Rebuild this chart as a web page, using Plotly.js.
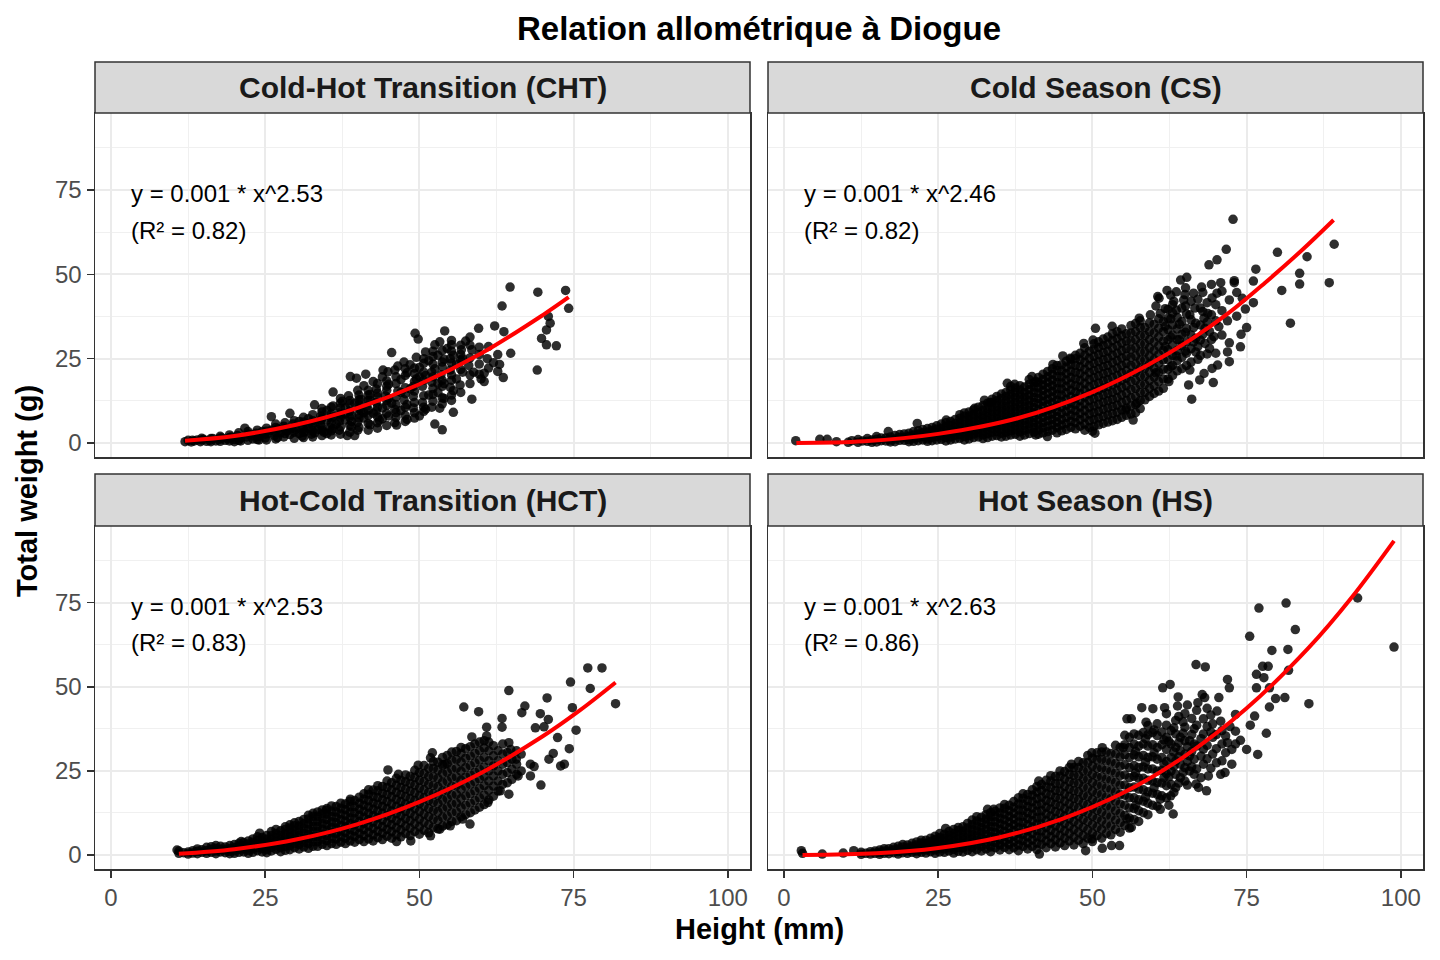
<!DOCTYPE html>
<html><head><meta charset="utf-8">
<script src="https://cdn.plot.ly/plotly-3.0.1.min.js"></script>
<style>html,body{margin:0;padding:0;background:#fff}#chart{width:1440px;height:960px}</style>
</head><body><div id="chart"></div>
<script>
const chartTitle = "Relation allométrique à Diogue";
const xTitle = "Height (mm)";
const yTitle = "Total weight (g)";
const panelTitles = ["Cold-Hot Transition (CHT)", "Cold Season (CS)", "Hot-Cold Transition (HCT)", "Hot Season (HS)"];
const equations = ["y = 0.001 * x^2.53", "y = 0.001 * x^2.46", "y = 0.001 * x^2.53", "y = 0.001 * x^2.63"];
const rSquared = ["(R² = 0.82)", "(R² = 0.82)", "(R² = 0.83)", "(R² = 0.86)"];
const xTicks = [0, 25, 50, 75, 100];
const yTicks = [0, 25, 50, 75];

// Points: [height, [weights...]]
const chtPoints = [
[12,[0.4]],[12.5,[0.8]],[13,[0.3]],[13.5,[0.6]],[14,[0.9]],[14.5,[0.4]],[15,[1.1]],[15.5,[0.5]],[16,[0.8]],[16.5,[1.3]],[17,[0.6]],[17.5,[1.0]],[18,[1.5]],[18.5,[0.8]],[19,[1.2]],[19.5,[1.8]],[20,[1.0,0.4]],[20.5,[2.2]],[21,[1.4,0.6]],[21.7,[4.4]],[22,[1.8]],[22.5,[2.6]],[23,[1.2,2.2]],[23.5,[2.9]],[24,[2.0,0.9]],[24.5,[3.4]],[25,[1.5,2.6]],[25.5,[2.8]],[26,[3.8,7.8]],[26.5,[2.2]],[27,[4.2,1.6]],[27.5,[3.0]],[28,[1.8,5.0]],[28.5,[3.6]],[29,[8.8,2.5,4.2]],[29.5,[5.6]],[30,[4.0]],[30.5,[2.8,6.4]],[31,[5.0,2.0]],[31.5,[3.4]],[32,[7.2,4.4,5.8]],[32.5,[2.6]],[33,[6.0,11.3,3.0]],[33.5,[4.0]],[34,[8.0,5.4,6.8]],[34.5,[3.2]],[35,[6.8,9.6,2.8]],[35.5,[4.6]],[36,[15.1,7.8,11.0,4.2]],[36.5,[5.6]],[37,[9.0,3.8,6.4]],[37.5,[12.4]],[38,[6.8,10.4,8.6]],[38.3,[2.2]],[38.5,[14.0]],[38.8,[19.7]],[39,[8.2,4.8,6.4]],[39.5,[11.8,2.2]],[39.8,[19.2]],[40,[6.2,15.6,3.8]],[40.5,[9.6,13.0]],[41,[17.0,7.4,9.0]],[41.3,[20.4]],[41.5,[11.0]],[42,[5.4,14.4,12.6]],[42.5,[8.8,18.2]],[43,[12.0,16.0,9.4]],[43.5,[6.8]],[44,[10.4,19.6,7.2]],[44.1,[21.6]],[44.5,[14.0]],[44.9,[21.1]],[45,[8.0,17.4,13.2]],[45.5,[26.8,11.8]],[46,[21.6,6.0,10.0]],[46.3,[5.3]],[46.5,[15.4,22.8]],[47,[9.6,18.8,15.0]],[47.5,[12.8,24.0]],[48,[20.8,7.0,11.4]],[48.5,[16.0,23.2]],[49,[10.4,13.8,16.8]],[49.3,[32.5]],[49.5,[19.0,25.4]],[49.8,[30.8]],[50,[8.0,22.4,19.6]],[50.5,[16.8,12.0]],[51,[27.0,20.0,10.0]],[51.5,[14.2,24.4]],[52,[18.0,10.6,21.0]],[52.5,[29.1,5.6,22.0]],[53,[26.0,15.0,17.6]],[53.3,[30.0,10.3]],[53.5,[20.2]],[53.7,[3.9]],[54,[24.8,17.6,13.2]],[54.1,[33.2]],[54.5,[28.0]],[55,[21.6,16.5,25.0]],[55.2,[29.1]],[55.5,[9.1,26.0,15.5]],[56,[23.4,19.0]],[56.6,[17.2]],[56.8,[27.6]],[57,[25.0,21.0]],[57.5,[30.2]],[58,[23.0]],[58.5,[27.6,13.0]],[58.8,[21.0]],[59.6,[34.0]],[60,[19.0]],[60.5,[18.2,20.7]],[61,[25.0]],[62,[23.8]],[62.2,[34.7]],[63,[23.3]],[63.4,[40.6]],[63.6,[19.4]],[63.7,[33.0]],[64.7,[46.2]],[64.8,[26.6]],[69.1,[21.6]],[69.2,[44.7]],[69.8,[31.0]],[70.6,[33.5,29.1]],[70.9,[37.5]],[71.2,[35.5]],[72.2,[28.8]],[73.7,[45.2]],[74.2,[39.9]]
];
const chtFill = [
[13.2,[0.8]],[14.7,[0.9,1.4]],[16.2,[0.4,1.3]],[17.7,[0.5,1.5,2.0]],[19.2,[0.6,1.6,2.4]],[20.7,[0.8,1.5,3.0]],[22.2,[0.8,2.6,3.4]],[23.7,[1.0,1.9,3.8]],[25.2,[0.9,3.5,4.4]],[26.7,[1.2,3.2,4.6,5.6]],[28.2,[2.8,4.2,6.0]],[29.7,[1.4,3.2,4.6,6.6]],[31.2,[1.6,3.2,4.2,6.2,7.6]],[32.7,[1.8,3.6,5.2,6.6,8.4]],[34.2,[2.2,3.8,4.6,7.4,9.2,10.2]],[35.7,[2.4,3.6,5.8,7.4,8.6,10.6]],[37.2,[2.6,4.8,7.6,8.4,10.4,11.8,13.2]],[38.7,[3.2,5.2,7.6,9.4,11.6,12.6]],[40.2,[4.6,7.4,8.4,10.2,11.4,12.8,14.2]],[41.7,[3.8,5.8,8.2,9.8,12.6,14.2,15.6]],[43.2,[4.4,6.0,7.8,10.6,13.6,14.8,17.6]],[44.7,[5.2,8.8,11.2,12.6,15.6,16.8,18.4]],[46.2,[7.6,9.0,11.4,13.6,17.6,19.6]],[47.7,[6.4,8.2,10.6,14.6,16.4,20.0,22.0]],[49.2,[7.4,9.0,12.0,15.4,18.2,20.6,22.2]],[50.7,[9.4,10.6,14.0,18.6,21.0,23.6,25.0]],[52.2,[12.4,14.4,16.2,19.6,23.4,25.6,27.2]],[53.7,[11.6,13.4,16.8,18.6,22.6,24.0,27.4]],[55.2,[12.6,14.2,18.6,20.2,23.6,27.2,30.4]],[56.7,[15.0,21.8,24.6,26.2,29.0]],[58.2,[17.6,20.2,25.2,29.0,31.4]],[59.7,[20.4,23.4,26.2,28.4]],[61.2,[22.2,28.6]],[62.7,[21.2,26.2]]
];
const csPoints = [
[1.9,[0.7]],[5.8,[1.1]],[7.0,[1.1]],[8.5,[0.4]],[10.4,[0.2]],[11,[0.7]],
[12,[0.2,1.0]],[13.5,[0.5,1.3]],[15,[0.3,1.1,1.9]],[16.5,[0.6,1.5]],[16.9,[3.4]],[18,[0.4,1.2,2.2]],[19.5,[0.8,1.7,2.7]],[21,[0.5,1.4,2.4,3.4]],[21.6,[5.8]],[22.5,[0.9,1.9,3.0,4.0]],[24,[0.7,1.6,2.6,3.7,4.6]],[25.5,[1.1,2.2,3.3,4.4,5.6]],[26.3,[6.8]],[27,[0.9,1.8,2.9,4.0,5.2,6.4]],[28.5,[1.4,2.5,3.6,4.8,6.0,7.3,8.4]],[30,[1.2,2.2,3.3,4.4,5.6,6.8,8.0,9.2]],[30.9,[10.3]],[31.5,[1.8,3.0,4.2,5.4,6.6,7.8,9.0,10.6]],[32.5,[12.7]],[33,[1.6,2.8,4.0,5.2,6.5,7.8,9.1,10.4,11.8]],[33.4,[12.0]],[34.5,[2.2,3.4,4.6,5.9,7.2,8.5,9.8,11.1,12.5,13.8]],[36,[2.0,3.2,4.5,5.8,7.1,8.4,9.7,11.0,12.4,13.8,15.0]],[36.2,[17.7]],[37.4,[17.4]],[37.5,[2.6,3.9,5.2,6.5,7.9,9.3,10.7,12.1,13.5,14.9,16.3]],[39,[2.4,3.8,5.2,6.6,8.0,9.4,10.8,12.2,13.6,15.0,16.6]],[40.2,[19.7]],[40.8,[18.2,2.4]],[40.5,[3.2,4.6,6.0,7.5,9.0,10.5,12.0,13.5,15.0,16.6,17.8]],[42,[3.0,4.5,6.0,7.6,9.2,10.8,12.4,14.0,15.6,17.2,18.8,20.4]],[42.7,[1.9]],[43.5,[3.8,5.4,7.0,8.6,10.2,11.9,13.6,15.3,17.0,18.7,20.4,22.0]],[43.6,[23.3]],[45,[3.6,5.3,7.0,8.8,10.6,12.4,14.2,16.0,17.8,19.6,21.4,23.2]],[45.2,[25.8]],[46.4,[25.1]],[46.5,[4.6,6.4,8.2,10.0,11.8,13.7,15.6,17.5,19.4,21.3,23.2,24.8]],[48,[5.0,6.9,8.8,10.7,12.6,14.6,16.6,18.6,20.6,22.6,24.6,26.6]],[48.6,[29.5]],[49.5,[4.6,6.6,8.6,10.6,12.6,14.6,16.7,18.8,20.9,23.0,25.1,27.2]],[50,[3.5]],[50.1,[30.5]],[50.4,[2.9]],[50.5,[34.0]],[51,[5.4,7.4,9.4,11.5,13.6,15.7,17.8,19.9,22.0,24.1,26.2,28.3,30.0]],[52.5,[6.2,8.3,10.4,12.5,14.6,16.7,18.8,20.9,23.0,25.1,27.2,29.3,31.4]],[53.2,[34.6]],[54,[7.0,9.1,11.2,13.4,15.6,17.8,20.0,22.2,24.4,26.6,28.8,31.0,33.0]],[55.4,[9.8]],[55.5,[8.2,10.4,12.6,14.8,17.0,19.2,21.4,23.6,25.8,28.0,30.2,32.4]],[56.6,[6.8]],[57,[9.0,11.4,13.8,16.2,18.6,21.0,23.4,25.8,28.2,30.6,33.0,35.4]],[57.6,[37.0]],[57.2,[11.8]],[58.5,[12.8,15.0,17.4,19.8,22.2,24.6,27.0,29.4,31.8,34.2]],[59.4,[38.0]],[60,[14.7,17.0,19.6,22.2,24.8,27.4,30.0,32.6,35.2]],[60.6,[43.4]],[60.8,[42.9]],[61,[38.4]],[61.5,[16.2,19.0,21.8,24.6,27.4,30.2,33.0,36.0]],[62.1,[45.2]],[62.4,[18.2]],[63,[20.0,23.0,26.0,29.0,32.0,35.0,38.5,41.0]],[63.2,[42.0]],[64.3,[48.3]],[64.5,[22.0,25.4,28.8,32.2,36.0,40.0]],[64.8,[42.4]],[65,[44.0]],[65.3,[49.1]],[65.6,[17.2]],[66,[24.0,28.0,32.0,36.5,42.0]],[66.1,[13.0]],[66.6,[40.0]],[67.4,[18.7]],[67.5,[26.0,30.5,35.0,40.0]],[67.7,[46.2]],[68.1,[20.6,37.0]],[68.7,[38.4]],[68.9,[52.8]],[69,[28.0,33.0]],[69.4,[22.1,43.0]],[69.6,[17.9]],[69.7,[31.5]],[70.2,[44.4,54.3]],[70.3,[23.1]],[70.5,[34.5]],[70.8,[47.5]],[71.7,[57.4]],[72.2,[42.4,29.7,24.1]],[72.8,[66.3]],[73,[48.1,47.5]],[74,[28.5]],[74.1,[32.2]],[74.3,[42.9]],[74.8,[39.7]],[75,[34.2]],[76.1,[48.0,41.6]],[76.5,[51.5]],[80,[56.5]],[80.7,[45.2]],[82.1,[35.5]],[83.6,[50.3,47.1]],[84.8,[55.2]],[88.4,[47.5]],[89.2,[58.9]]
];
const csFill = [
[12.75,[0.6]],[14.25,[0.9,0.2]],[15.75,[0.7,1.5]],[17.25,[0.9,1.8,0.3]],[18.75,[0.8,1.6,2.5]],[20.25,[1.0,1.9,2.9,0.4]],[21.75,[0.7,1.6,2.6,3.6]],[23.25,[1.2,2.2,3.2,4.3,0.5]],[24.75,[0.9,1.9,3.0,4.1,5.1]],[26.25,[0.6,1.6,2.7,3.8,4.9,6.0]],[27.75,[1.2,2.3,3.4,4.6,5.8,7.0]],[29.25,[0.9,1.9,3.0,4.1,5.3,6.6,7.9,8.9]],[30.75,[1.6,2.7,3.8,5.0,6.2,7.4,8.6,9.8]],[32.25,[1.3,2.4,3.6,4.8,6.0,7.2,8.4,9.7,11.1]],[33.75,[2.0,3.2,4.4,5.6,6.9,8.2,9.5,10.8,12.1,13.0]],[35.25,[1.8,2.9,4.1,5.3,6.6,7.9,9.2,10.5,11.8,13.2,14.5]],[36.75,[2.4,3.6,4.9,6.2,7.5,8.8,10.1,11.5,12.9,14.3,15.7,16.8]],[38.25,[2.0,3.3,4.6,6.0,7.3,8.7,10.1,11.5,12.9,14.3,15.7,17.0]],[39.75,[2.8,4.2,5.6,7.0,8.4,9.8,11.2,12.7,14.2,15.8,17.4,18.8]],[41.25,[2.6,3.9,5.3,6.8,8.4,10.0,11.6,13.2,14.8,16.4,18.0,19.4]],[42.75,[3.4,5.0,6.6,8.2,9.8,11.4,13.0,14.7,16.4,18.0,19.6,21.2]],[44.25,[3.0,4.6,6.2,7.8,9.4,11.0,12.7,14.4,16.1,17.9,19.7,21.5,23.0]],[45.75,[4.0,5.8,7.6,9.4,11.2,13.0,14.9,16.8,18.7,20.6,22.5,24.2]],[47.25,[4.2,6.0,7.8,9.6,11.4,13.2,15.1,17.0,19.0,21.0,23.0,25.0,26.0]],[48.75,[3.8,5.6,7.6,9.6,11.6,13.6,15.6,17.6,19.7,21.8,23.9,26.0,28.2]],[50.25,[5.0,7.0,9.0,11.0,13.1,15.2,17.3,19.4,21.5,23.6,25.7,27.8,29.4]],[51.75,[5.8,7.9,10.0,12.1,14.2,16.3,18.4,20.5,22.6,24.7,26.8,28.9,30.8]],[53.25,[6.6,8.7,10.8,12.9,15.0,17.2,19.4,21.6,23.8,26.0,28.2,30.4,32.4]],[54.75,[7.6,9.8,12.0,14.2,16.4,18.6,20.8,23.0,25.2,27.4,29.6,31.8,33.8]],[56.25,[8.6,11.0,13.4,15.8,18.2,20.6,23.0,25.4,27.8,30.2,32.6,34.8]],[57.75,[10.2,12.6,15.0,17.4,19.8,22.2,24.6,27.0,29.4,31.8,34.2,36.2]],[59.25,[13.8,16.2,18.6,21.0,23.4,25.8,28.2,30.6,33.0,35.6]],[60.75,[15.4,18.2,21.0,23.6,26.2,28.8,31.4,34.0,36.8]],[62.25,[19.0,21.8,24.8,27.6,30.6,33.6,37.0,39.6]],[63.75,[21.4,24.4,27.4,30.6,33.8,37.2]],[65.25,[23.0,26.6,30.0,34.0,38.2]],[66.75,[27.0,31.0,35.5]],[68.25,[29.5,34.0]],
[60.3,[40.6,20.8]],[61.8,[28.6,34.6,39.8]],[62.7,[22.6,31.4,36.8,43.8]],[63.6,[25.8,39.4,44.8]],[64.1,[30.6,35.2]],[65.1,[27.2,32.8,40.6,46.0]],[65.8,[21.6,38.0]],[66.4,[30.0,34.2,44.4]],[67.1,[24.8,28.6,42.6]],[67.9,[32.2,39.0,44.6]],[68.6,[26.4,35.8,41.6]],[69.3,[30.6,38.0,47.0]],[70.0,[26.6,36.2,41.0]],[71.0,[32.0,39.2,45.0]],[71.9,[36.2,27.0]],[73.4,[37.6,44.6]]
];
const hctPoints = [
[10.7,[1.5]],[11,[0.5,1.2]],[12.5,[0.3,0.9]],[14,[0.4,1.1,1.8]],[15.5,[0.5,1.3,2.3]],[17,[0.4,1.2,2.0,2.8]],[18.5,[0.7,1.5,2.4]],[20,[0.5,1.3,2.2,3.1]],[21.1,[4.0]],[21.5,[0.9,1.8,2.8,3.7]],[23,[0.8,1.8,2.8,3.8,4.8]],[24.1,[6.5]],[24.5,[0.9,1.9,3.0,4.1,5.2]],[26,[1.2,2.3,3.4,4.6,5.8,7.0]],[27.5,[1.0,2.2,3.4,4.6,5.9,7.2]],[29,[1.6,2.8,4.1,5.4,6.7,8.0,9.0]],[30.5,[1.8,3.1,4.4,5.8,7.2,8.6,10.0]],[32,[2.0,3.4,4.8,6.2,7.7,9.2,10.7,11.8]],[33.5,[2.6,4.0,5.5,7.0,8.5,10.0,11.5,12.8]],[34.9,[13.3]],[35,[2.8,4.3,5.8,7.4,9.0,10.6,12.2,13.8]],[36.5,[3.2,4.8,6.4,8.0,9.6,11.2,12.8,14.4]],[38,[3.4,5.0,6.7,8.4,10.1,11.8,13.5,15.2]],[38.8,[16.6]],[39.5,[3.8,5.5,7.2,9.0,10.8,12.6,14.4,16.2]],[41,[4.0,5.8,7.6,9.4,11.2,13.0,14.8,16.6,18.2]],[42.5,[4.2,6.0,7.9,9.8,11.7,13.6,15.5,17.4,19.3]],[44,[4.6,6.5,8.4,10.4,12.4,14.4,16.4,18.4,20.4]],[44.9,[25.3]],[45.5,[5.0,7.0,9.0,11.0,13.1,15.2,17.3,19.4,21.5]],[46.3,[4.0]],[46.6,[24.0]],[47,[5.4,7.5,9.6,11.7,13.8,15.9,18.0,20.1,22.2]],[48.5,[5.8,8.0,10.2,12.4,14.6,16.8,19.0,21.2,23.4]],[48.6,[4.2]],[49.8,[26.7]],[50,[6.2,8.4,10.7,13.0,15.3,17.6,19.9,22.2,24.5]],[51.5,[6.6,9.0,11.4,13.8,16.2,18.6,21.0,23.4,25.8]],[51.8,[5.7,28.9]],[52.1,[30.4]],[53,[7.8,10.3,12.8,15.3,17.8,20.3,22.8,25.3,27.6]],[53.3,[7.7]],[54.1,[27.0]],[54.5,[9.0,11.6,14.2,16.8,19.4,22.0,24.6,27.2,29.6]],[55,[8.7]],[56,[10.2,12.8,15.4,18.0,20.6,23.2,25.8,28.4,30.8]],[57,[10.7]],[57.2,[44.0]],[57.5,[12.0,14.8,17.6,20.4,23.2,26.0,28.8,31.6]],[58.2,[9.2]],[58.5,[35.1]],[59,[13.4,16.2,19.0,21.8,24.6,27.4,30.2,33.0]],[59.6,[42.6]],[60.5,[15.0,17.8,20.6,23.4,26.2,29.0,31.8,34.0]],[60.9,[38.0,35.4]],[61.1,[15.6]],[62,[17.5,20.5,23.5,26.5,29.5,32.5]],[63.1,[19.1]],[63.4,[40.6,38.0]],[63.5,[21.0,24.0,27.0,30.0,33.0]],[64.5,[48.9,33.4,18.1]],[64.8,[31.4]],[65,[22.5,25.5,28.5]],[65.7,[28.5]],[66,[23.5]],[66.5,[25.0,30.0]],[66.6,[42.3]],[67.1,[44.3]],[68,[23.5,27.0]],[68.6,[26.3]],[68.8,[37.8]],[69.6,[42.0]],[69.7,[20.8]],[70.2,[38.1]],[70.7,[46.7]],[70.9,[40.3]],[71,[28.5]],[71.7,[30.2]],[72.4,[34.9]],[72.9,[26.5]],[73.5,[27.0]],[74.3,[31.6]],[74.5,[51.4]],[74.8,[43.8]],[75.4,[37.1]],[77.3,[55.6]],[77.7,[49.5]],[79.6,[55.6]],[81.8,[45.0]]
];
const hctFill = [
[11.75,[0.7]],[13.25,[0.6,1.3]],[14.75,[0.8,1.6]],[16.25,[0.8,1.7,2.5]],[17.75,[0.9,1.7,2.6]],[19.25,[0.4,1.1,1.9,2.8]],[20.75,[0.8,1.7,2.6,3.5]],[22.25,[0.5,1.4,2.3,3.3,4.2]],[23.75,[1.3,2.3,3.3,4.3,5.4]],[25.25,[0.7,1.6,2.6,3.6,4.7,5.8]],[26.75,[1.7,2.8,4.0,5.2,6.4,7.6]],[28.25,[1.4,2.6,3.8,5.0,6.3,7.6,8.4]],[29.75,[2.2,3.5,4.8,6.1,7.4,8.7,9.6]],[31.25,[2.4,3.8,5.1,6.5,7.9,9.3,10.6]],[32.75,[2.6,4.0,5.5,7.0,8.5,10.0,11.5,12.4]],[34.25,[3.2,4.7,6.2,7.7,9.3,10.8,12.2,13.4]],[35.75,[3.4,5.0,6.6,8.2,9.8,11.4,13.0,14.6]],[37.25,[3.8,5.4,7.1,8.8,10.5,12.2,13.9,15.4]],[38.75,[4.2,5.9,7.6,9.3,11.0,12.7,14.4,16.0]],[40.25,[4.6,6.4,8.2,10.0,11.8,13.6,15.4,17.2]],[41.75,[4.8,6.7,8.6,10.5,12.4,14.3,16.2,18.1,19.4]],[43.25,[5.2,7.1,9.1,11.1,13.1,15.1,17.1,19.1,20.6]],[44.75,[5.6,7.6,9.6,11.7,13.8,15.9,18.0,20.1,22.0]],[46.25,[6.0,8.1,10.2,12.3,14.4,16.5,18.6,20.7,22.8]],[47.75,[6.4,8.6,10.8,13.0,15.2,17.4,19.6,21.8,23.8]],[49.25,[7.0,9.3,11.6,13.9,16.2,18.5,20.8,23.1,25.2]],[50.75,[7.4,9.8,12.2,14.6,17.0,19.4,21.8,24.2,26.6]],[52.25,[8.2,10.7,13.2,15.7,18.2,20.7,23.2,25.7,27.8]],[53.75,[8.6,11.2,13.8,16.4,19.0,21.6,24.2,26.8,29.0]],[55.25,[10.0,12.6,15.2,17.8,20.4,23.0,25.6,28.2,30.6]],[56.75,[11.4,14.1,16.8,19.5,22.2,24.9,27.6,30.2,32.0]],[58.25,[12.6,15.4,18.2,21.0,23.8,26.6,29.4,32.2]],[59.75,[14.2,17.0,19.8,22.6,25.4,28.2,31.0,33.6]],[61.25,[16.4,19.2,22.0,25.0,28.0,31.0,33.6]],[62.75,[19.0,22.0,25.0,28.0,31.0]],[64.25,[21.5,24.5,27.5,30.5]],[65.75,[24.0,27.0,31.0]]
];
const hsPoints = [
[2.8,[1.3]],[3,[0.5]],[6.2,[0.3]],[9.6,[0.6]],[11.3,[1.3]],[12.5,[0.2,0.8]],[14,[0.3,1.0]],[15.5,[0.2,0.8,1.5]],[17,[0.4,1.1,1.9]],[18.5,[0.3,1.0,1.8,2.6]],[20,[0.5,1.3,2.1,3.0]],[21.5,[0.4,1.2,2.1,3.0,3.9]],[23,[0.6,1.5,2.4,3.4,4.4]],[24.5,[0.5,1.5,2.5,3.5,4.6,5.6]],[26,[0.8,1.8,2.9,4.0,5.1,6.2]],[26.2,[7.9]],[27.5,[0.6,1.7,2.8,4.0,5.2,6.4,7.6]],[29,[0.9,2.1,3.3,4.5,5.8,7.1,8.4]],[30.5,[1.0,2.3,3.6,4.9,6.2,7.6,9.0,10.4]],[32,[1.2,2.6,4.0,5.4,6.8,8.2,9.7,11.2]],[33,[13.6]],[34,[13.6]],[33.5,[1.0,2.4,3.9,5.4,6.9,8.4,9.9,11.4,12.6]],[35,[1.5,3.0,4.5,6.1,7.7,9.3,10.9,12.5,14.0]],[36.5,[1.6,3.2,4.8,6.4,8.1,9.8,11.5,13.2,14.8]],[38,[1.3,3.0,4.7,6.4,8.1,9.8,11.6,13.4,15.2,17.0]],[39.5,[1.8,3.6,5.4,7.2,9.0,10.8,12.6,14.4,16.2,18.0]],[41,[1.6,3.5,5.4,7.3,9.2,11.1,13.0,14.9,16.8,18.7,20.4]],[41.3,[22.0]],[41.4,[0.3]],[42.5,[2.2,4.2,6.2,8.2,10.2,12.2,14.2,16.2,18.2,20.2,22.2]],[44,[2.4,4.5,6.6,8.7,10.8,12.9,15.0,17.1,19.2,21.3,23.4]],[45.5,[2.8,5.0,7.2,9.4,11.6,13.8,16.0,18.2,20.4,22.6,24.8]],[46.6,[27.0]],[47,[3.0,5.3,7.6,9.9,12.2,14.5,16.8,19.1,21.4,23.7,26.0]],[48.5,[3.4,5.8,8.2,10.6,13.0,15.4,17.8,20.2,22.6,25.0,27.4]],[48.9,[1.3]],[49.9,[4.8,30.4]],[50,[4.0,6.5,9.0,11.5,14.0,16.5,19.0,21.5,24.0,26.5,28.8]],[51.5,[5.0,7.6,10.2,12.8,15.4,18.0,20.6,23.2,25.8,28.4,30.6]],[51.6,[2.0,31.9]],[53,[6.0,8.7,11.4,14.1,16.8,19.5,22.2,24.9,27.6,30.2]],[53.1,[2.8]],[54.4,[2.8]],[54.5,[6.8,9.6,12.4,15.2,18.0,20.8,23.6,26.4,29.2,32.0]],[55,[31.9]],[55.6,[40.5,10.7]],[56,[8.0,11.0,14.0,17.0,20.0,23.0,26.0,29.0,32.0,35.0]],[56.3,[40.5,8.2]],[57.5,[10.0,13.2,16.4,19.6,22.8,26.0,29.2,32.4,35.6]],[58,[43.8]],[58.7,[39.5]],[59,[12.0,15.4,18.8,22.2,25.6,29.0,32.4,35.8,38.5]],[59.8,[43.5]],[60.5,[14.5,18.0,21.5,25.0,28.5,32.0,35.5,39.0]],[61,[16.6,13.6]],[61.4,[49.7]],[61.7,[43.8]],[62,[17.0,20.6,24.2,27.8,31.4,35.0,38.6,42.0]],[62.6,[50.7]],[62.7,[17.6]],[63.1,[12.2]],[63.5,[20.0,24.0,28.0,32.0,36.0,40.0]],[63.8,[44.3]],[63.9,[47.0]],[65,[22.0,26.0,30.0,34.0,38.0,42.0]],[66.5,[24.0,28.5,33.0,37.5]],[66.8,[56.6,21.1]],[67.1,[45.3]],[67.2,[20.1]],[67.8,[47.7]],[68,[27.0,31.5,36.0,40.5]],[68.2,[46.8]],[68.3,[55.9]],[68.5,[19.1]],[68.8,[23.5]],[69.5,[30.0,35.0,39.0]],[70.2,[42.8]],[70.5,[46.8]],[71,[28.0,33.0,37.0]],[71.5,[24.5]],[71.9,[52.2,33.4]],[72.2,[49.7]],[72.6,[27.0,31.4]],[74,[34.1]],[75,[31.4]],[75.5,[65.0]],[75.6,[38.6]],[76.3,[41.3]],[76.6,[53.7,49.7]],[76.8,[29.9]],[77,[73.4]],[77.6,[56.1]],[77.8,[52.7]],[78.2,[36.2]],[78.5,[56.1]],[78.7,[49.7,44.0]],[79.1,[60.8]],[79.7,[46.5]],[81.2,[46.8]],[81.4,[74.9]],[81.7,[61.1]],[81.8,[54.9]],[82.9,[67.0]],[85.1,[45.0]],[93.0,[76.4]],[98.9,[61.8]]
];
const hsFill = [
[13.25,[0.5]],[14.75,[0.5,1.2]],[16.25,[0.5,1.2,1.9]],[17.75,[0.7,1.5,2.3]],[19.25,[0.7,1.5,2.4,3.1]],[20.75,[0.8,1.7,2.6,3.5]],[22.25,[0.8,1.7,2.6,3.6,4.4]],[23.75,[1.0,2.0,3.0,4.0,5.0]],[25.25,[0.9,2.0,3.0,4.1,5.2,6.4]],[26.75,[1.2,2.3,3.4,4.6,5.8,7.0]],[28.25,[1.1,2.3,3.5,4.7,6.0,7.3,8.2]],[29.75,[1.4,2.7,4.0,5.3,6.6,8.0,9.4]],[31.25,[1.6,3.0,4.4,5.8,7.2,8.6,10.1,11.4]],[32.75,[1.8,3.2,4.7,6.2,7.7,9.2,10.7,12.0]],[34.25,[2.2,3.7,5.2,6.7,8.3,9.9,11.5,13.0]],[35.75,[2.3,3.9,5.5,7.1,8.8,10.5,12.2,13.9,15.0]],[37.25,[2.2,3.9,5.6,7.3,9.0,10.7,12.4,14.2,15.9]],[38.75,[2.6,4.3,6.1,7.9,9.7,11.5,13.3,15.1,16.9,18.2]],[40.25,[2.6,4.5,6.4,8.3,10.2,12.1,14.0,15.9,17.8,19.4]],[41.75,[3.2,5.2,7.2,9.2,11.2,13.2,15.2,17.2,19.2,21.0]],[43.25,[3.4,5.4,7.4,9.5,11.6,13.7,15.8,17.9,20.0,22.0,23.6]],[44.75,[3.6,5.8,8.0,10.2,12.4,14.6,16.8,19.0,21.2,23.4,25.0]],[46.25,[4.2,6.4,8.6,10.8,13.0,15.2,17.4,19.6,21.8,24.0,26.0]],[47.75,[4.4,6.8,9.2,11.6,14.0,16.4,18.8,21.2,23.6,26.0,27.8]],[49.25,[5.0,7.5,10.0,12.5,15.0,17.5,20.0,22.5,25.0,27.5,29.6]],[50.75,[5.8,8.3,10.8,13.3,15.8,18.3,20.8,23.3,25.8,28.3,30.4]],[52.25,[6.4,9.1,11.8,14.5,17.2,19.9,22.6,25.3,28.0,30.6]],[53.75,[7.6,10.4,13.2,16.0,18.8,21.6,24.4,27.2,30.0,32.6]],[55.25,[8.8,11.8,14.8,17.8,20.8,23.8,26.8,29.8,32.8,35.6]],[56.75,[10.6,13.8,17.0,20.2,23.4,26.6,29.8,33.0,36.0]],[58.25,[12.6,16.0,19.4,22.8,26.2,29.6,33.0,36.4]],[59.75,[14.8,18.4,22.0,25.6,29.2,32.8,36.4]],[61.25,[17.6,21.4,25.2,29.0,32.8,36.6]],[62.75,[21.0,25.0,29.0,33.0,37.0]],[64.25,[23.0,27.0,31.0,35.0]],[65.75,[25.0,29.5,34.0]],
[62.4,[14.8,23.2,33.8]],[63.2,[18.6,26.4,30.6,37.8]],[64.0,[21.4,29.2,33.4,41.2]],[64.7,[24.6,36.2,39.6]],[65.4,[20.8,27.8,32.2,44.6]],[66.1,[26.2,30.8,35.8,40.6]],[66.9,[25.6,32.4,38.6,43.0]],[67.6,[29.4,34.6,23.0]],[68.6,[32.6,38.2,43.6,28.6]],[69.2,[25.8,36.6,41.6]],[70.1,[31.6,35.8,27.4]],[70.8,[39.8,24.0]],[71.6,[35.4,30.4]],[72.3,[38.2]],[73.2,[33.0,36.8,41.8]],
[57.0,[14.8,24.4,30.8]],[58.6,[17.2,27.6,34.6]],[60.0,[20.0,30.4,37.2]],[61.6,[23.0,27.0,34.2]]
];

// Fitted curves
const chtFitX = [12, 20, 30, 40, 50, 60, 70, 74.2];
const chtFitY = [0.7, 2.1, 5.4, 10.4, 17.4, 26.5, 37.9, 43.2];
const csFitX = [2, 13, 25, 38, 50, 59, 66, 72, 78, 84, 89.1];
const csFitY = [0.0, 0.5, 2.7, 7.4, 15.1, 23.1, 30.7, 38.4, 47.5, 57.2, 66.1];
const hctFitX = [11, 20, 30, 40, 50, 60, 70, 76, 81.8];
const hctFitY = [0.4, 1.75, 4.6, 9.2, 15.8, 24.4, 35.3, 43.0, 51.3];
const hsFitX = [3, 15, 25, 35, 45, 55, 65, 75, 85, 92, 98.9];
const hsFitY = [0.0, 0.5, 2.1, 5.3, 10.7, 18.5, 29.4, 43.6, 61.5, 76.5, 93.4];

const FONT = "Liberation Sans, Arial, Helvetica, sans-serif";
function flatten(cols) {
  const xs = [], ys = [];
  cols.forEach(c => c[1].forEach(v => { xs.push(c[0]); ys.push(v); }));
  return {xs, ys};
}
const pointSets = [chtPoints.concat(chtFill), csPoints.concat(csFill), hctPoints.concat(hctFill), hsPoints.concat(hsFill)];
const fits = [[chtFitX, chtFitY], [csFitX, csFitY], [hctFitX, hctFitY], [hsFitX, hsFitY]];
const axIds = ["", "2", "3", "4"];

const traces = [];
pointSets.forEach((ps, i) => {
  const f = flatten(ps);
  traces.push({type: "scatter", mode: "markers", x: f.xs, y: f.ys,
    xaxis: "x" + axIds[i], yaxis: "y" + axIds[i],
    marker: {size: 9.5, color: "rgba(0,0,0,0.82)", line: {width: 0}}, hoverinfo: "skip"});
});
fits.forEach((fv, i) => {
  traces.push({type: "scatter", mode: "lines", x: fv[0], y: fv[1],
    xaxis: "x" + axIds[i], yaxis: "y" + axIds[i],
    line: {color: "#FF0000", width: 4, shape: "spline", smoothing: 1}, hoverinfo: "skip"});
});

const xDomL = [95/1440, 750/1440], xDomR = [768/1440, 1423/1440];
const yDomT = [1 - 457/960, 1 - 113/960], yDomB = [1 - 869/960, 1 - 526/960];

function xAxis(domain, anchor, showLabels) {
  return {domain, anchor, range: [-2.6, 103.6], tickvals: xTicks, ticktext: xTicks.map(String),
    ticks: showLabels ? "outside" : "", ticklen: 7, tickwidth: 1.5, tickcolor: "#333333",
    showticklabels: showLabels, tickfont: {family: FONT, size: 24, color: "#4D4D4D"},
    showline: true, mirror: true, linecolor: "#333333", linewidth: 1.5,
    showgrid: true, gridcolor: "#EBEBEB", gridwidth: 2, zeroline: false,
    minor: {dtick: 12.5, tick0: 0, showgrid: true, gridcolor: "#F0F0F0", gridwidth: 1, ticks: ""},
    fixedrange: true};
}
function yAxis(domain, anchor, showLabels) {
  return {domain, anchor, range: [-4.15, 97.8], tickvals: yTicks, ticktext: yTicks.map(String),
    ticks: showLabels ? "outside" : "", ticklen: 7, tickwidth: 1.5, tickcolor: "#333333",
    showticklabels: showLabels, tickfont: {family: FONT, size: 24, color: "#4D4D4D"},
    showline: true, mirror: true, linecolor: "#333333", linewidth: 1.5,
    showgrid: true, gridcolor: "#EBEBEB", gridwidth: 2, zeroline: false,
    minor: {dtick: 12.5, tick0: 0, showgrid: true, gridcolor: "#F0F0F0", gridwidth: 1, ticks: ""},
    fixedrange: true};
}

const stripRects = [
  [xDomL, [yDomT[1], 1 - 62/960]], [xDomR, [yDomT[1], 1 - 62/960]],
  [xDomL, [yDomB[1], 1 - 474/960]], [xDomR, [yDomB[1], 1 - 474/960]]
];
const shapes = stripRects.map(r => ({type: "rect", xref: "paper", yref: "paper",
  x0: r[0][0], x1: r[0][1], y0: r[1][0], y1: r[1][1],
  fillcolor: "#D9D9D9", line: {color: "#333333", width: 1.5}, layer: "above"}));

const annotations = [];
stripRects.forEach((r, i) => {
  annotations.push({xref: "paper", yref: "paper", x: (r[0][0] + r[0][1]) / 2, y: (r[1][0] + r[1][1]) / 2,
    text: "<b>" + panelTitles[i] + "</b>", showarrow: false, xanchor: "center", yanchor: "middle",
    font: {family: FONT, size: 30, color: "#1A1A1A"}});
});
equations.forEach((eq, i) => {
  annotations.push({xref: "x" + axIds[i], yref: "y" + axIds[i], x: 2.9, y: 73.8, text: eq,
    showarrow: false, xanchor: "left", yanchor: "middle", font: {family: FONT, size: 24, color: "#000000"}});
  annotations.push({xref: "x" + axIds[i], yref: "y" + axIds[i], x: 2.9, y: 63.1, text: rSquared[i],
    showarrow: false, xanchor: "left", yanchor: "middle", font: {family: FONT, size: 24, color: "#000000"}});
});
annotations.push({xref: "paper", yref: "paper", x: 759/1440, y: 1 - 929/960, text: "<b>" + xTitle + "</b>",
  showarrow: false, xanchor: "center", yanchor: "middle", font: {family: FONT, size: 29, color: "#000000"}});
annotations.push({xref: "paper", yref: "paper", x: 27/1440, y: 1 - 491/960, text: "<b>" + yTitle + "</b>",
  showarrow: false, xanchor: "center", yanchor: "middle", textangle: -90, font: {family: FONT, size: 29, color: "#000000"}});

const layout = {
  width: 1440, height: 960, margin: {l: 0, r: 0, t: 0, b: 0},
  paper_bgcolor: "#FFFFFF", plot_bgcolor: "#FFFFFF", showlegend: false,
  title: {text: "<b>" + chartTitle + "</b>", x: 759/1440, xanchor: "center", y: 1 - 28/960, yanchor: "middle",
    font: {family: FONT, size: 33, color: "#000000"}},
  xaxis: xAxis(xDomL, "y", false), yaxis: yAxis(yDomT, "x", true),
  xaxis2: xAxis(xDomR, "y2", false), yaxis2: yAxis(yDomT, "x2", false),
  xaxis3: xAxis(xDomL, "y3", true), yaxis3: yAxis(yDomB, "x3", true),
  xaxis4: xAxis(xDomR, "y4", true), yaxis4: yAxis(yDomB, "x4", false),
  shapes, annotations
};
Plotly.newPlot("chart", traces, layout, {displayModeBar: false, staticPlot: true});
</script>
</body></html>
